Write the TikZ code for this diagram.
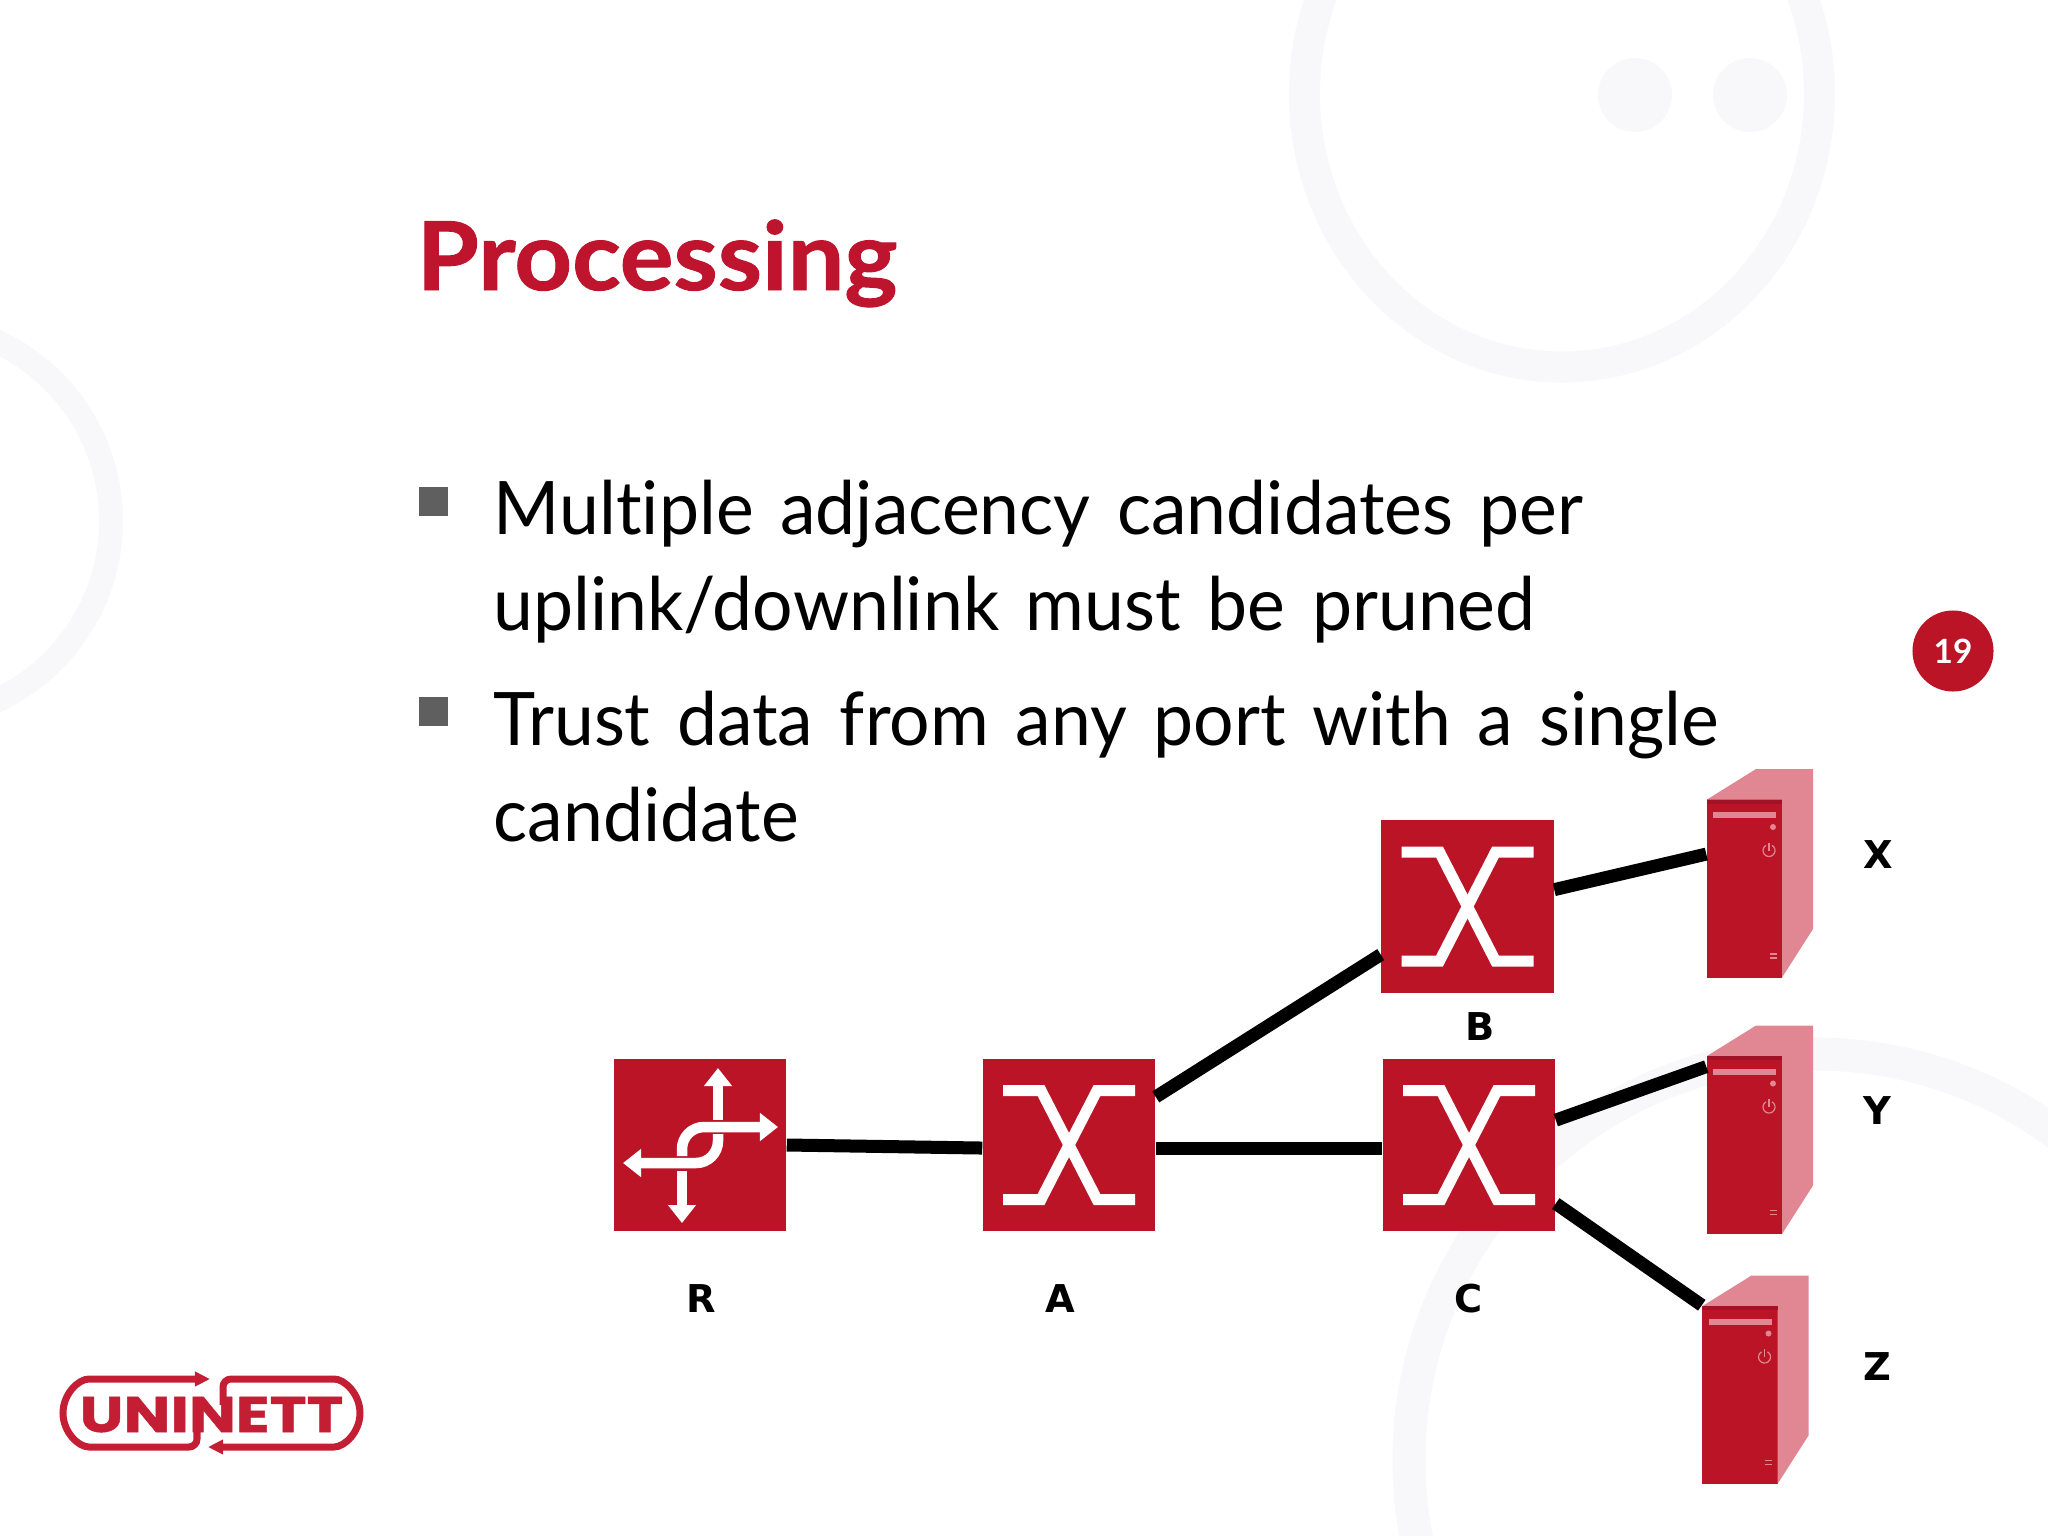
\documentclass[tikz,border=0pt]{standalone}
\usepackage{fontspec}
\setmainfont{Lato}[Ligatures=NoCommon]
\newfontfamily\bodyfont{Lato}[Ligatures=NoCommon,FakeStretch=0.968,WordSpace=1.45]
\newfontfamily\labelfont{DejaVu Sans}
\newfontfamily\logofont{Poppins}[FakeStretch=1.25,BoldFeatures={FakeBold=1}]
\usepackage{xcolor}
\usepackage{tikz}
\usetikzlibrary{arrows.meta}
\definecolor{brick}{HTML}{BB1427}
\definecolor{blush}{HTML}{E08793}
\definecolor{darkband}{HTML}{A01226}
\definecolor{titlered}{HTML}{BE142E}
\definecolor{logored}{HTML}{C41E35}
\definecolor{bulletgrey}{HTML}{5F5F5F}
\definecolor{ringgrey}{HTML}{F8F7F9}
\tikzset{
  ring/.style={draw=ringgrey},
  titletext/.style={anchor=base west, inner sep=0pt, text=titlered, font=\fontsize{27}{32}\selectfont\bfseries\addfontfeature{FakeStretch=1.06,FakeBold=1}},
  bodytext/.style={anchor=base west, inner sep=0pt, align=left, text=black, font=\fontsize{21}{27.3}\bodyfont},
  bulletbox/.style={rectangle, fill=bulletgrey, inner sep=0pt, minimum size=0.29cm},
  netbox/.style={rectangle, fill=brick, inner sep=0pt, minimum size=1.72cm},
  srvbox/.style={rectangle, fill=brick, inner sep=0pt, minimum width=0.75cm, minimum height=1.78cm},
  netlabel/.style={inner sep=0pt, text=black, font=\fontsize{10.9}{13}\labelfont\bfseries},
  link/.style={draw=black, line width=0.13cm},
  glyph/.style={draw=white, line width=0.11cm, miter limit=4},
  gliph/.style={draw=white, line width=0.105cm},
  arrowtip/.style={-{Triangle[length=0.18cm,width=0.27cm]}},
  logotip/.style={-{Triangle[length=0.15cm,width=0.14cm]}},
  logoline/.style={draw=logored, line width=0.07cm, rounded corners=0.08cm},
  xglyph/.pic={
    \draw[glyph] (-66,-54.5) -- (-28,-54.5) -- (28,54.5) -- (66,54.5);
    \draw[glyph] (66,-54.5) -- (28,-54.5) -- (-28,54.5) -- (-66,54.5);
  },
  towerparts/.pic={
    \fill[blush] (-37.5,-89) -- (11.5,-119.5) -- (68.5,-119.5) -- (68.5,40.5) -- (37.5,89) -- (37.5,-89) -- cycle;
    \fill[darkband] (-37.5,-89) rectangle (37.5,-85);
    \fill[blush] (-31.5,-76.5) rectangle (31.5,-70.5);
    \fill[blush] (28.5,-61.5) circle[radius=3];
    \draw[blush, line width=0.012cm] (24.5,-38) ++(-60:6) arc[start angle=-60, end angle=240, radius=6];
    \draw[blush, line width=0.012cm] (24.5,-46) -- (24.5,-38);
    \draw[blush, line width=0.012cm] (25,65.5) -- (32,65.5) (25,69.5) -- (32,69.5);
  }
}

\begin{document}
\begin{tikzpicture}[x=0.01cm,y=-0.01cm]
  \useasboundingbox (0,0) rectangle (2048,1536);

  % background rings
  \begin{scope}
    \clip (0,0) rectangle (2048,1536);
    \draw[ring, line width=0.31cm] (1562,94) circle[x radius=257.5, y radius=273];
    \fill[ringgrey] (1635,95) circle[radius=37];
    \fill[ringgrey] (1750,95) circle[radius=37];
    \draw[ring, line width=0.24cm] (-87,521) circle[radius=198];
    \draw[ring, line width=0.33cm] (1815,1460) circle[radius=406];
  \end{scope}

  \node[titletext] (title) at (416,290) {Processing};
  \node[bulletbox] (bullA) at (433.5,501.5) {};
  \node[bulletbox] (bullB) at (433.5,711.5) {};
  \node[bodytext] (itemA) at (493,630) {Multiple adjacency candidates per\\uplink/downlink must be pruned};
  \node[bodytext] (itemB) at (493,841) {Trust data from any port with a single\\candidate};

  \node[circle, fill=brick, inner sep=0pt, minimum size=0.81cm, text=white,
        font=\fontsize{9.5}{11}\selectfont\bfseries] (page) at (1953,651) {19};

  % network
  \node[netbox] (routerR) at (700,1145) {};
  \node[netbox] (switchA) at (1069,1145) {};
  \node[netbox] (switchB) at (1467.5,906.5) {};
  \node[netbox] (switchC) at (1469,1145) {};
  \node[srvbox] (hostX) at (1744.5,888.5) {};
  \node[srvbox] (hostY) at (1744.5,1145) {};
  \node[srvbox] (hostZ) at (1740,1395) {};

  \pic at (switchA) {xglyph};
  \pic at (switchB) {xglyph};
  \pic at (switchC) {xglyph};
  \pic at (hostX) {towerparts};
  \pic at (hostY) {towerparts};
  \pic at (hostZ) {towerparts};

  % router arrows
  \draw[gliph, arrowtip] (718,1120) -- (718,1068);
  \draw[gliph, arrowtip, rounded corners=0.22cm] (718,1134) -- (718,1163) -- (623,1163);
  \draw[gliph, arrowtip, rounded corners=0.22cm] (682,1156) -- (682,1127) -- (778,1127);
  \draw[gliph, arrowtip] (682,1171) -- (682,1223);

  \draw[link] (routerR.east) -- (switchA.182);
  \draw[link] (switchA.-2) -- (switchC.182);
  \draw[link] (switchA.29.5) -- (switchB.209.5);
  \draw[link] (switchB.11.6) -- (hostX.138.2);
  \draw[link] (switchC.16.9) -- (hostY.116);
  \draw[link] (switchC.-34.2) -- (hostZ.north west);

  \node[netlabel] (lblR) at (701,1299) {R};
  \node[netlabel] (lblA) at (1060,1299) {A};
  \node[netlabel] (lblB) at (1480,1027) {B};
  \node[netlabel] (lblC) at (1469,1299) {C};
  \node[netlabel] (lblX) at (1878,855) {X};
  \node[netlabel] (lblY) at (1877,1111) {Y};
  \node[netlabel] (lblZ) at (1877,1367) {Z};

  % logo
  \node[anchor=base, inner sep=0pt, text=logored, font=\fontsize{14.2}{16}\logofont\bfseries] (logo) at (211.5,1432) {UNINETT};
  \draw[logoline, logotip] (197,1425) -- (197,1447) -- (97,1447) arc[start angle=90, end angle=270, radius=34] -- (210,1379);
  \draw[logoline, logotip] (223,1405) -- (223,1379) -- (326,1379) arc[start angle=-90, end angle=90, radius=34] -- (208,1447);
\end{tikzpicture}
\end{document}
